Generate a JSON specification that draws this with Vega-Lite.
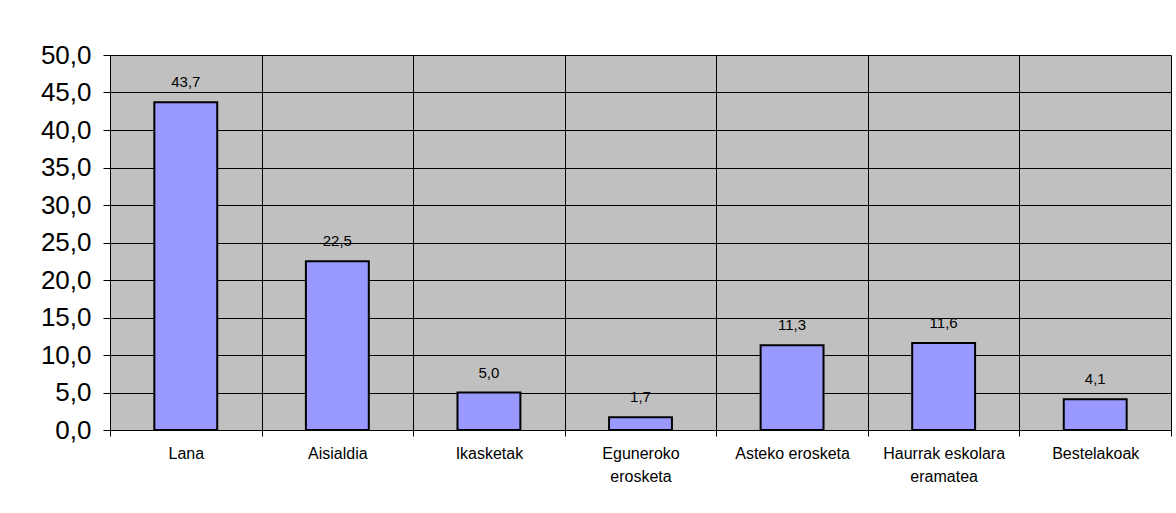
{
  "$schema": "https://vega.github.io/schema/vega-lite/v6.json",
  "autosize": "none",
  "padding": {"left": 110, "top": 55, "right": 5, "bottom": 83},
  "width": 1061,
  "height": 375,
  "background": "white",
  "config": {
    "locale": {"number": {"decimal": ",", "thousands": ".", "grouping": [3], "currency": ["", " €"]}},
    "view": {"fill": "#C0C0C0", "stroke": null},
    "font": "Liberation Sans"
  },
  "data": {
    "values": [
      {"cat": "Lana", "val": 43.7},
      {"cat": "Aisialdia", "val": 22.5},
      {"cat": "Ikasketak", "val": 5.0},
      {"cat": "Eguneroko|erosketa", "val": 1.7},
      {"cat": "Asteko erosketa", "val": 11.3},
      {"cat": "Haurrak eskolara|eramatea", "val": 11.6},
      {"cat": "Bestelakoak", "val": 4.1}
    ]
  },
  "encoding": {
    "x": {
      "field": "cat",
      "type": "nominal",
      "sort": null,
      "scale": {"paddingInner": 0, "paddingOuter": 0},
      "axis": {
        "title": null,
        "labelAngle": 0,
        "labelExpr": "split(datum.label, '|')",
        "labelFont": "Liberation Sans",
        "labelFontSize": 16,
        "labelColor": "black",
        "labelLineHeight": 23,
        "labelPadding": 9,
        "labelBaseline": "top",
        "bandPosition": 0,
        "tickBand": "extent",
        "tickColor": "black",
        "tickSize": 6,
        "domainColor": "black",
        "domainWidth": 1,
        "grid": true,
        "gridColor": "black",
        "gridWidth": 1
      }
    },
    "y": {
      "field": "val",
      "type": "quantitative",
      "scale": {"domain": [0, 50], "nice": false},
      "axis": {
        "title": null,
        "values": [0, 5, 10, 15, 20, 25, 30, 35, 40, 45, 50],
        "format": ".1f",
        "labelFont": "Liberation Sans",
        "labelFontSize": 26,
        "labelColor": "black",
        "labelPadding": 12,
        "tickColor": "black",
        "tickSize": 7,
        "domainColor": "black",
        "gridColor": "black",
        "gridWidth": 1
      }
    }
  },
  "layer": [
    {
      "mark": {"type": "bar", "width": {"band": 0.415}, "fill": "#9999FF", "stroke": "black", "strokeWidth": 2}
    },
    {
      "mark": {"type": "text", "font": "Liberation Sans", "fontSize": 15, "color": "black", "baseline": "alphabetic", "dy": -15},
      "encoding": {
        "text": {"field": "val", "type": "quantitative", "format": ".1f"}
      }
    }
  ]
}
